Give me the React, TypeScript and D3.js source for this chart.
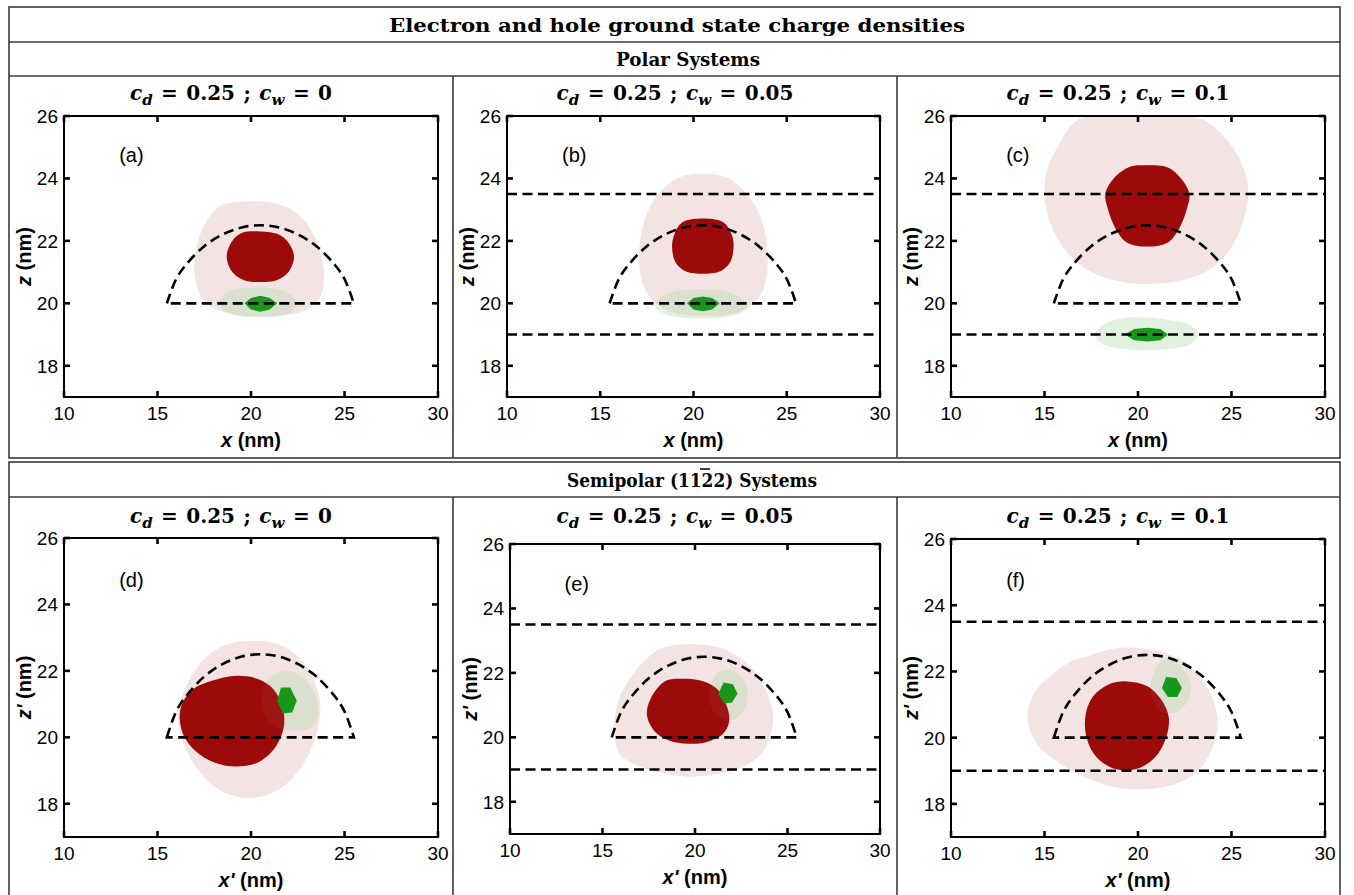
import React from 'react';
import * as d3 from 'd3';

type Pt = [number, number];

// axes
const xTicks = [10, 15, 20, 25, 30];
const zTicks = [18, 20, 22, 24, 26];
const xDomain: Pt = [10, 30];
const zDomain: Pt = [17, 26];

// panel texts
const panelIds = ['(a)', '(b)', '(c)', '(d)', '(e)', '(f)'];
const cdValue = '0.25';
const cwValues = ['0', '0.05', '0.1', '0', '0.05', '0.1'];
const xLabels = ['x', 'x', 'x', "x'", "x'", "x'"];
const zLabels = ['z', 'z', 'z', "z'", "z'", "z'"];

// wetting-layer barriers (z in nm)
const wellBarriers: number[][] = [[], [19, 23.5], [19, 23.5], [], [19, 23.5], [19, 23.5]];

// quantum dot outline (lens), base from 15.5 to 25.5 at z = 20
const domeOutline: Pt[] = [
  [15.5, 20], [16.0, 20.78], [16.5, 21.22], [17.5, 21.83], [18.5, 22.21], [19.5, 22.43],
  [20.5, 22.5], [21.5, 22.43], [22.5, 22.21], [23.5, 21.83], [24.5, 21.22], [25.0, 20.78], [25.5, 20],
];

// electron density, outer (light) contour
const electronOuter: Pt[][] = [
  [[18.3, 23.1], [19.5, 23.25], [20.8, 23.25], [21.8, 23.1], [22.7, 22.75], [23.5, 22.0], [23.9, 21.0], [23.7, 20.2],
   [22.8, 19.75], [21.0, 19.6], [19.0, 19.65], [17.6, 20.0], [17.0, 20.8], [17.1, 21.8], [17.5, 22.5]],
  [[19.3, 24.05], [20.6, 24.15], [21.9, 24.0], [23.0, 23.4], [23.7, 22.6], [23.95, 21.7], [23.9, 20.8], [23.4, 20.1],
   [22.3, 19.7], [20.6, 19.6], [18.9, 19.7], [17.8, 20.1], [17.2, 20.8], [17.1, 21.8], [17.4, 22.7], [18.1, 23.5]],
  [[17.0, 25.95], [18.5, 26.0], [20.5, 26.0], [22.5, 26.0], [23.6, 25.85], [24.8, 25.2], [25.6, 24.4], [25.9, 23.5],
   [25.6, 22.6], [24.9, 21.7], [23.6, 21.0], [22.0, 20.7], [20.5, 20.62], [19.0, 20.7], [17.5, 21.0], [16.1, 21.7],
   [15.3, 22.6], [15.0, 23.5], [15.2, 24.4], [15.8, 25.1], [16.3, 25.6]],
  [[18.5, 22.75], [19.8, 22.9], [21.2, 22.85], [22.4, 22.5], [23.3, 21.8], [23.7, 21.0], [23.5, 20.1], [22.9, 19.3],
   [21.9, 18.6], [20.8, 18.25], [19.4, 18.2], [18.2, 18.45], [17.2, 19.0], [16.4, 19.8], [16.1, 20.6], [16.5, 21.5],
   [17.4, 22.3]],
  [[18.4, 22.8], [19.8, 22.9], [21.2, 22.8], [22.6, 22.4], [23.6, 21.7], [24.2, 20.8], [24.1, 20.1], [23.6, 19.5],
   [22.5, 19.05], [21.0, 18.85], [19.7, 18.78], [18.2, 18.9], [16.8, 19.15], [15.9, 19.5], [15.65, 20.3], [15.9, 21.2],
   [16.7, 22.0], [17.5, 22.5]],
  [[17.5, 22.5], [18.8, 22.7], [20.2, 22.7], [21.5, 22.55], [22.7, 22.2], [23.7, 21.5], [24.25, 20.6], [24.0, 19.7],
   [23.2, 19.0], [22.0, 18.6], [20.5, 18.45], [18.8, 18.5], [17.2, 18.8], [15.6, 19.3], [14.5, 19.9], [14.1, 20.6],
   [14.4, 21.3], [15.4, 21.9], [16.4, 22.3]],
];

// electron density, core (dark) contour
const electronCore: Pt[][] = [
  [[19.5, 22.25], [20.5, 22.3], [21.5, 22.2], [22.0, 21.95], [22.3, 21.5], [22.0, 21.0], [21.4, 20.75], [20.5, 20.68],
   [19.6, 20.75], [19.0, 21.0], [18.7, 21.5], [19.0, 22.0]],
  [[19.4, 22.6], [20.5, 22.72], [21.6, 22.6], [22.05, 22.2], [22.15, 21.8], [21.95, 21.3], [21.4, 21.02], [20.5, 20.95],
   [19.6, 21.02], [19.05, 21.3], [18.85, 21.8], [19.0, 22.25]],
  [[19.6, 24.38], [20.5, 24.42], [21.6, 24.35], [22.3, 24.0], [22.75, 23.5], [22.6, 23.0], [22.2, 22.4], [21.6, 21.95],
   [20.5, 21.82], [19.4, 21.95], [18.8, 22.4], [18.4, 23.0], [18.25, 23.5], [18.7, 24.0]],
  [[18.2, 21.75], [19.3, 21.85], [20.4, 21.75], [21.2, 21.45], [21.7, 20.9], [21.75, 20.3], [21.3, 19.7], [20.4, 19.25],
   [19.2, 19.12], [18.0, 19.25], [17.0, 19.6], [16.3, 20.2], [16.25, 20.9], [16.9, 21.45]],
  [[18.4, 21.75], [19.4, 21.82], [20.4, 21.75], [21.2, 21.5], [21.7, 21.0], [21.85, 20.5], [21.5, 20.1], [20.6, 19.85],
   [19.6, 19.8], [18.6, 19.9], [17.8, 20.2], [17.4, 20.7], [17.6, 21.2]],
  [[18.4, 21.6], [19.4, 21.7], [20.5, 21.55], [21.3, 21.1], [21.65, 20.6], [21.5, 20.0], [20.9, 19.4], [19.9, 19.05],
   [18.8, 19.05], [17.8, 19.4], [17.25, 20.0], [17.2, 20.7], [17.6, 21.25]],
];

// hole density, outer (light) contour
const holeOuter: Pt[][] = [
  [[18.3, 20.0], [18.7, 20.35], [19.5, 20.48], [20.5, 20.5], [21.5, 20.45], [22.2, 20.25], [22.45, 20.0], [22.1, 19.7],
   [21.3, 19.57], [20.4, 19.55], [19.4, 19.58], [18.7, 19.72]],
  [[17.9, 19.95], [18.4, 20.25], [19.4, 20.42], [20.5, 20.45], [21.6, 20.4], [22.5, 20.2], [22.9, 19.95], [22.5, 19.68],
   [21.5, 19.55], [20.4, 19.52], [19.3, 19.55], [18.3, 19.7]],
  [[17.7, 19.0], [18.1, 19.3], [19.0, 19.5], [20.5, 19.55], [21.8, 19.45], [22.8, 19.3], [23.2, 19.0], [22.8, 18.7],
   [21.8, 18.55], [20.5, 18.5], [19.1, 18.55], [18.1, 18.7]],
  [[21.0, 21.8], [21.9, 22.0], [22.8, 21.8], [23.4, 21.3], [23.6, 20.7], [23.2, 20.3], [22.3, 20.2], [21.3, 20.3],
   [20.7, 20.7], [20.6, 21.3]],
  [[21.2, 22.0], [21.9, 22.1], [22.5, 21.9], [22.85, 21.4], [22.7, 20.9], [22.1, 20.55], [21.4, 20.6], [20.9, 20.9],
   [20.8, 21.5]],
  [[21.4, 22.35], [22.2, 22.2], [22.85, 21.6], [22.6, 21.05], [22.0, 20.75], [21.2, 20.8], [20.7, 21.3], [20.8, 21.9]],
];

// hole density, core (dark) contour
const holeCore: Pt[][] = [
  [[19.65, 20.0], [20.0, 20.17], [20.5, 20.24], [21.0, 20.17], [21.4, 20.0], [21.0, 19.8], [20.5, 19.73], [20.0, 19.8]],
  [[19.65, 20.0], [20.0, 20.17], [20.5, 20.22], [21.0, 20.17], [21.4, 20.0], [21.0, 19.8], [20.5, 19.75], [20.0, 19.8]],
  [[19.3, 19.0], [19.8, 19.18], [20.5, 19.22], [21.2, 19.18], [21.6, 19.0], [21.2, 18.82], [20.5, 18.78], [19.8, 18.82]],
  [[21.6, 21.5], [22.1, 21.5], [22.45, 21.1], [22.2, 20.75], [21.7, 20.72], [21.4, 21.1]],
  [[21.55, 21.7], [22.05, 21.65], [22.3, 21.35], [22.0, 21.08], [21.6, 21.05], [21.25, 21.35]],
  [[21.5, 21.83], [22.05, 21.8], [22.35, 21.5], [22.1, 21.23], [21.6, 21.23], [21.28, 21.5]],
];

// page layout (px)
const W = 1354;
const H = 895;
const frameL = 9;
const frameR = 1340;
const colDiv = [453, 897];
const cellCenters = [231, 675, 1118];
const plotRects = [
  { l: 64, r: 438, t: 116, b: 397 },
  { l: 507, r: 880, t: 116, b: 397 },
  { l: 951, r: 1325, t: 116, b: 397 },
  { l: 64, r: 438, t: 538, b: 837 },
  { l: 510, r: 880, t: 544, b: 834 },
  { l: 951, r: 1325, t: 539, b: 837 },
];

const pinkFill = '#f4e3e3';
const redFill = '#9c0a0a';
const haloFill = '#b9dfb4';
const greenFill = '#18981a';
const sans = 'Liberation Sans, Arial, sans-serif';
const serif = 'DejaVu Serif, serif';

function Panel({ i }: { i: number }) {
  const rc = plotRects[i];
  const x = d3.scaleLinear().domain(xDomain).range([rc.l, rc.r]);
  const z = d3.scaleLinear().domain(zDomain).range([rc.b, rc.t]);
  const smooth = d3.line<Pt>().x(d => x(d[0])).y(d => z(d[1])).curve(d3.curveCatmullRomClosed.alpha(0.5));
  const poly = d3.line<Pt>().x(d => x(d[0])).y(d => z(d[1])).curve(d3.curveLinearClosed);
  const arc = d3.line<Pt>().x(d => x(d[0])).y(d => z(d[1])).curve(d3.curveCatmullRom.alpha(0.5));
  const dash = '10,5.5';
  const cx = (rc.l + rc.r) / 2;
  const cy = (rc.t + rc.b) / 2;
  const clipId = `clip${i}`;
  return (
    <g>
      <defs>
        <clipPath id={clipId}>
          <rect x={rc.l} y={rc.t} width={rc.r - rc.l} height={rc.b - rc.t} />
        </clipPath>
      </defs>
      <g clipPath={`url(#${clipId})`}>
        <path d={smooth(electronOuter[i]) || ''} fill={pinkFill} />
        <path d={smooth(holeOuter[i]) || ''} fill={haloFill} fillOpacity={0.38} />
        <path d={smooth(electronCore[i]) || ''} fill={redFill} />
        <path d={smooth(holeOuter[i]) || ''} fill={haloFill} fillOpacity={0.06} />
        <path d={poly(holeCore[i]) || ''} fill={greenFill} />
        {wellBarriers[i].map(v => (
          <line key={v} x1={rc.l} x2={rc.r} y1={z(v)} y2={z(v)} stroke="#000" strokeWidth={2.6} strokeDasharray={dash} />
        ))}
        <path d={(arc(domeOutline) || '') + 'Z'} fill="none" stroke="#000" strokeWidth={2.6} strokeDasharray={dash} />
      </g>
      <text x={x(12.95)} y={z(24.75) + 7} fontFamily={sans} fontSize={20}>{panelIds[i]}</text>
      {/* frame */}
      <rect x={rc.l} y={rc.t} width={rc.r - rc.l} height={rc.b - rc.t} fill="none" stroke="#000" strokeWidth={2} />
      {xTicks.map(t => (
        <g key={'x' + t}>
          <line x1={x(t)} x2={x(t)} y1={rc.b} y2={rc.b - 6} stroke="#000" strokeWidth={2.6} />
          <line x1={x(t)} x2={x(t)} y1={rc.t} y2={rc.t + 6} stroke="#000" strokeWidth={2.6} />
          <text x={x(t)} y={rc.b + 23} textAnchor="middle" fontFamily={sans} fontSize={19}>{t}</text>
        </g>
      ))}
      {zTicks.map(t => (
        <g key={'z' + t}>
          <line x1={rc.l} x2={rc.l + 6} y1={z(t)} y2={z(t)} stroke="#000" strokeWidth={2.6} />
          <line x1={rc.r} x2={rc.r - 6} y1={z(t)} y2={z(t)} stroke="#000" strokeWidth={2.6} />
          <text x={rc.l - 6} y={z(t) + 7} textAnchor="end" fontFamily={sans} fontSize={19}>{t}</text>
        </g>
      ))}
      <text x={cx} y={rc.b + 50} textAnchor="middle" fontFamily={sans} fontWeight="bold" fontSize={20}>
        <tspan fontStyle="italic">{xLabels[i]}</tspan>
        <tspan>{' (nm)'}</tspan>
      </text>
      <text
        transform={`translate(${rc.l - 33},${cy}) rotate(-90)`}
        textAnchor="middle"
        fontFamily={sans}
        fontWeight="bold"
        fontSize={20}
      >
        <tspan fontStyle="italic">{zLabels[i]}</tspan>
        <tspan>{' (nm)'}</tspan>
      </text>
      <text x={cellCenters[i % 3]} y={i < 3 ? 100 : 523} textAnchor="middle" fontFamily={serif} fontWeight="bold"
        fontSize={20} wordSpacing={1.5}>
        <tspan fontStyle="italic">c</tspan>
        <tspan fontStyle="italic" fontSize={15} dy={5}>d</tspan>
        <tspan dy={-5}>{' = ' + cdValue + ' ; '}</tspan>
        <tspan fontStyle="italic">c</tspan>
        <tspan fontStyle="italic" fontSize={15} dy={5}>w</tspan>
        <tspan dy={-5}>{' = ' + cwValues[i]}</tspan>
      </text>
    </g>
  );
}

export default function App() {
  const border = '#3a3a3a';
  return (
    <div style={{ position: 'absolute', left: 0, top: 0, background: '#fff' }}>
      <svg width={W} height={H} style={{ display: 'block' }}>
        <rect x={0} y={0} width={W} height={H} fill="#fff" />
        {/* top group */}
        <rect x={frameL} y={7} width={frameR - frameL} height={451} fill="none" stroke={border} strokeWidth={1.6} />
        <line x1={frameL} x2={frameR} y1={42} y2={42} stroke={border} strokeWidth={1.6} />
        <line x1={frameL} x2={frameR} y1={76} y2={76} stroke={border} strokeWidth={1.6} />
        {colDiv.map(c => (
          <line key={'t' + c} x1={c} x2={c} y1={76} y2={458} stroke={border} strokeWidth={1.6} />
        ))}
        {/* bottom group */}
        <rect x={frameL} y={462} width={frameR - frameL} height={440} fill="none" stroke={border} strokeWidth={1.6} />
        <line x1={frameL} x2={frameR} y1={497} y2={497} stroke={border} strokeWidth={1.6} />
        {colDiv.map(c => (
          <line key={'b' + c} x1={c} x2={c} y1={497} y2={H + 5} stroke={border} strokeWidth={1.6} />
        ))}
        <text x={677} y={32} textAnchor="middle" fontFamily={serif} fontWeight="bold" fontSize={19}
          textLength={576} lengthAdjust="spacingAndGlyphs">
          Electron and hole ground state charge densities
        </text>
        <text x={688} y={66} textAnchor="middle" fontFamily={serif} fontWeight="bold" fontSize={19}
          textLength={144} lengthAdjust="spacingAndGlyphs">
          Polar Systems
        </text>
        <text x={692} y={487} textAnchor="middle" fontFamily={serif} fontWeight="bold" fontSize={19}
          textLength={250} lengthAdjust="spacingAndGlyphs">
          Semipolar (1122) Systems
        </text>
        {/* bar over the third Miller index digit */}
        <line x1={700} x2={710} y1={469} y2={469} stroke="#000" strokeWidth={1.5} />
        {plotRects.map((_, i) => (
          <Panel key={i} i={i} />
        ))}
      </svg>
    </div>
  );
}
